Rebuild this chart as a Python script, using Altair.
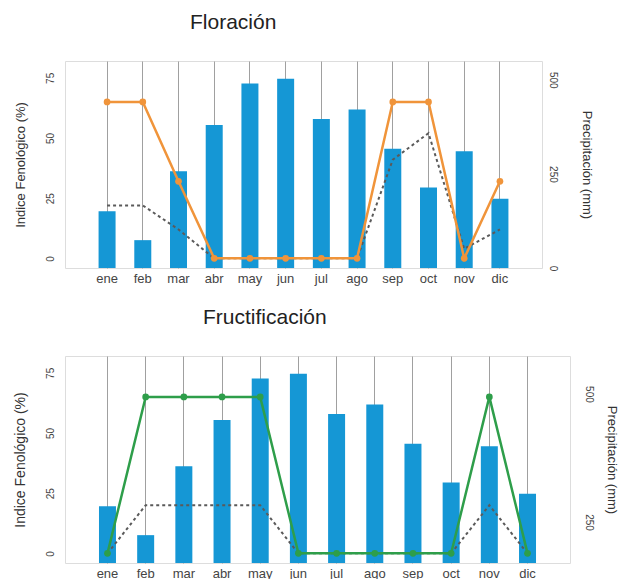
import altair as alt
import pandas as pd

months = ["ene", "feb", "mar", "abr", "may", "jun", "jul", "ago", "sep", "oct", "nov", "dic"]
precip = [151, 74, 257, 380, 490, 503, 396, 421, 317, 214, 310, 184]
flor_index = [65, 65, 32, 0, 0, 0, 0, 0, 65, 65, 0, 32]
flor_dotted = [22, 22, 12, 0, 0, 0, 0, 0, 41, 52, 4, 12]
fruct_index = [0, 65, 65, 65, 65, 0, 0, 0, 0, 0, 65, 0]
fruct_dotted = [0, 20, 20, 20, 20, 0, 0, 0, 0, 0, 20, 0]

df = pd.DataFrame({
    "mes": months,
    "precip": precip,
    "flor": flor_index,
    "flor_d": flor_dotted,
    "fruct": fruct_index,
    "fruct_d": fruct_dotted,
})

FONT = "Liberation Sans"
BAR = "#1597D5"
ORANGE = "#F0943A"
GREEN = "#2E9E4A"
DOT = "#5a5a5a"


def xenc(pi, po):
    return alt.X(
        "mes:N", sort=months,
        scale=alt.Scale(paddingInner=pi, paddingOuter=po),
        axis=alt.Axis(title=None, grid=True, gridColor="#a0a0a0", gridWidth=1,
                      ticks=False, domain=False, labelAngle=0, labelFontSize=13,
                      labelColor="#444", labelPadding=4, labelFont=FONT,
                      bandPosition=0.5),
    )


def left_axis(title_size):
    return alt.Axis(title="Indice Fenológico (%)", values=[0, 25, 50, 75], orient="left",
                    grid=False, ticks=False, domain=False, labelAngle=270,
                    labelFontSize=10, labelColor="#444", labelPadding=10,
                    labelFont=FONT, titleFont=FONT, titleFontSize=title_size,
                    titleFontWeight="normal", titleColor="#333", titlePadding=18)


def right_axis(label_pad, title_pad, values):
    return alt.Axis(title="Precipitación (mm)", values=values, orient="right",
                    grid=False, ticks=False, domain=False, labelAngle=90,
                    labelFontSize=10, labelColor="#444", labelPadding=label_pad,
                    labelFont=FONT, titleFont=FONT, titleFontSize=13,
                    titleFontWeight="normal", titleColor="#333", titleAngle=90,
                    titlePadding=title_pad, labelFlush=False, labelOverlap=False)


LSCALE = alt.Scale(domain=[-4, 82], nice=False, zero=False)


def panel(title, dx, width, pi, po, main_field, dot_field, color, right_dummy):
    base = alt.Chart(df)
    X = xenc(pi, po)
    if right_dummy is None:
        bar_axis = right_axis(5, 22, [0, 250, 500])
    else:
        bar_axis = None
    bars = base.mark_bar(color=BAR).encode(
        x=X,
        y=alt.Y("precip:Q", scale=alt.Scale(domain=[0, 550], nice=False), axis=bar_axis),
    )
    la = left_axis(13 if right_dummy is None else 14)
    dotted = base.mark_line(color=DOT, strokeDash=[3, 3], strokeWidth=2).encode(
        x=X, y=alt.Y(f"{dot_field}:Q", scale=LSCALE, axis=la))
    line = base.mark_line(color=color, strokeWidth=2.5).encode(
        x=X, y=alt.Y(f"{main_field}:Q", scale=LSCALE, axis=la))
    pts = base.mark_circle(color=color, size=45, opacity=1).encode(
        x=X, y=alt.Y(f"{main_field}:Q", scale=LSCALE, axis=la))
    lines = alt.layer(dotted, line, pts)
    layers = [bars, lines]
    if right_dummy is not None:
        dummy = base.mark_point(opacity=0).encode(
            x=X,
            y=alt.Y("precip:Q", scale=alt.Scale(domain=right_dummy, nice=False, zero=False),
                    axis=right_axis(13, 11, [250, 500])),
        )
        layers.append(dummy)
    return alt.layer(*layers).resolve_scale(y="independent").properties(
        width=width, height=207,
        title=alt.TitleParams(title, anchor="start", dx=dx, fontSize=21, font=FONT,
                              fontWeight="normal", color="#222", baseline="alphabetic",
                              offset=11),
    )


top = panel("Floración", 176, 477, 0.524, 0.94, "flor", "flor_d", ORANGE, None)
bottom = panel("Fructificación", 190, 505, 0.555, 0.89, "fruct", "fruct_d", GREEN, [170, 574])

chart = alt.vconcat(top, bottom, spacing=20).properties(
    padding={"left": 12, "top": 11, "right": 0, "bottom": 0}
).configure_view(stroke="#d4d4d4", strokeWidth=1).configure(background="white")

chart.save("out.html", embed_options={"renderer": "svg", "actions": False})
